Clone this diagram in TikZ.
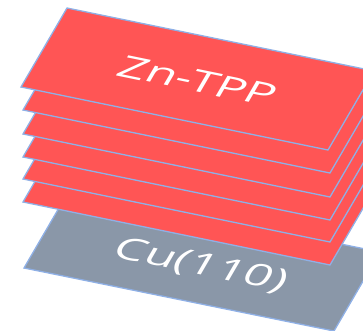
\documentclass[tikz,border=0pt]{standalone}
\usepackage{fontspec}
\setmainfont{Open Sans}
\definecolor{layerred}{HTML}{FF5555}
\definecolor{cugray}{HTML}{8A97A8}
\definecolor{edgeblue}{HTML}{8FB0E6}
\begin{document}
\begin{tikzpicture}[x=1pt,y=-1pt,
  plate/.style={draw=edgeblue, line width=1.3pt, line join=miter},
  lbl/.style={text=white, font=\fontsize{49}{60}\selectfont, anchor=base, inner sep=0pt, cm={0.98,-0.201,0.337,0.579,(0,0)}}]
\useasboundingbox (0,0) rectangle (363,330);
\filldraw[plate, fill=cugray] (24,268) -- ++(310,63) -- ++(46,-79) -- ++(-310,-63) -- cycle;
\node[lbl] (cu) at (196,274) {Cu(110)};
\foreach \y in {202,179,157,134,110} {
  \filldraw[plate, fill=layerred] (23,\y) -- ++(307,63) -- ++(46,-79) -- ++(-307,-63) -- cycle;
}
\filldraw[plate, fill=layerred] (21,87) -- ++(307,63) -- ++(46,-79) -- ++(-307,-63) -- cycle;
\node[lbl] (zn) at (192,91) {Zn-TPP};
\end{tikzpicture}
\end{document}
